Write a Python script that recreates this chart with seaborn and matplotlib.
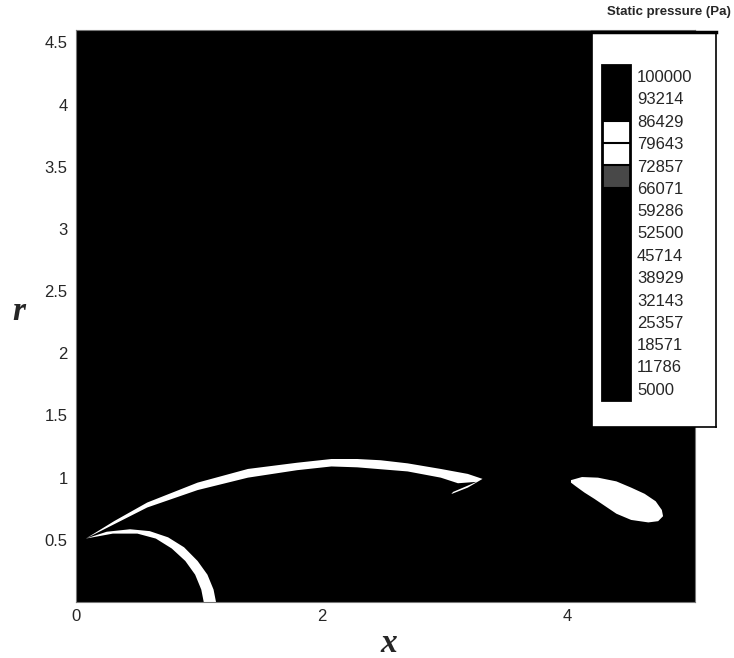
import numpy as np
import seaborn as sns
import matplotlib.pyplot as plt
from matplotlib.colors import ListedColormap, BoundaryNorm
from matplotlib.cm import ScalarMappable

sns.set_style("white")
plt.rcParams['font.family'] = ['Liberation Sans', 'DejaVu Sans']

# contour levels of the legend (Pa)
levels = [5000, 11786, 18571, 25357, 32143, 38929, 45714, 52500,
          59286, 66071, 72857, 79643, 86429, 93214, 100000]
level_labels = [str(v) for v in levels]
# colour of each band between two levels (low -> high)
band_colors = ['black'] * 9 + ['#484848', 'white', 'white', 'black', 'black']

# pressure of the regions drawn
p_background = 40000
p_shock = 80000

# upper shock band (outline, data coords)
upper_x = [0.08, 0.31, 0.58, 0.99, 1.40, 1.80, 2.08, 2.29, 2.48, 2.70, 2.97, 3.19, 3.31,
           3.19, 3.056, 3.07, 3.20, 3.26, 3.11, 2.97, 2.70, 2.29, 2.08, 1.80, 1.40, 0.99,
           0.58, 0.31, 0.08]
upper_y = [0.51, 0.65, 0.80, 0.96, 1.07, 1.12, 1.15, 1.15, 1.14, 1.115, 1.07, 1.03, 0.99,
           0.92, 0.868, 0.885, 0.94, 0.966, 0.955, 1.00, 1.05, 1.083, 1.09, 1.06, 1.00, 0.90,
           0.76, 0.625, 0.51]

# lower curved band
lower_x = [0.08, 0.25, 0.44, 0.60, 0.75, 0.88, 0.99, 1.07, 1.12, 1.14,
           1.04, 1.02, 0.97, 0.89, 0.78, 0.65, 0.50, 0.30, 0.08]
lower_y = [0.51, 0.565, 0.585, 0.57, 0.52, 0.44, 0.33, 0.22, 0.10, 0.0,
           0.0, 0.10, 0.22, 0.33, 0.43, 0.51, 0.55, 0.55, 0.51]

# blob behind
blob_x = [4.03, 4.12, 4.25, 4.40, 4.52, 4.63, 4.72, 4.77, 4.78, 4.74, 4.66, 4.52,
          4.40, 4.31, 4.22, 4.14, 4.07, 4.03]
blob_y = [0.98, 1.005, 1.00, 0.97, 0.92, 0.87, 0.81, 0.74, 0.69, 0.65, 0.64, 0.66,
          0.71, 0.77, 0.83, 0.88, 0.93, 0.96]

cmap = ListedColormap(band_colors)
cmap.set_under('black')
cmap.set_over('black')
norm = BoundaryNorm(levels, cmap.N)

fig = plt.figure(figsize=(7.34, 6.58), dpi=100)
ax = fig.add_axes([76/734, 1-602/658, 619/734, 572/658])
ax.set_facecolor(cmap(norm(p_background)))
for xs, ys in [(upper_x, upper_y), (lower_x, lower_y), (blob_x, blob_y)]:
    ax.fill(xs, ys, color=cmap(norm(p_shock)), lw=0)

ax.set_xlim(0, 5.04)
ax.set_ylim(0, 4.6)
ax.set_xticks([0, 2, 4])
ax.set_yticks([0.5, 1, 1.5, 2, 2.5, 3, 3.5, 4, 4.5])
ax.set_yticklabels(['0.5', '1', '1.5', '2', '2.5', '3', '3.5', '4', '4.5'])
ax.tick_params(length=0, labelsize=12)
ax.tick_params(axis='x', pad=5)
ax.tick_params(axis='y', pad=6)
for s in ax.spines.values():
    s.set_color('#777777')
    s.set_linewidth(0.8)

ax.set_xlabel('x', family='Liberation Serif', style='italic', weight='bold', fontsize=24)
ax.set_ylabel('r', family='Liberation Serif', style='italic', weight='bold', fontsize=24,
              rotation=0)
ax.xaxis.set_label_coords(0.505, -0.045)
ax.yaxis.set_label_coords(-0.093, 0.48)

# legend box
lax = fig.add_axes([592/734, 1-427/658, 124/734, 395/658])
lax.set_facecolor('white')
lax.set_xticks([])
lax.set_yticks([])
for s in lax.spines.values():
    s.set_color('black')
    s.set_linewidth(1.2)
lax.spines['top'].set_linewidth(2.5)

cax = fig.add_axes([602/734, 1-400/658, 28/734, 335/658])
sm = ScalarMappable(norm=norm, cmap=cmap)
cb = fig.colorbar(sm, cax=cax, extend='both', extendrect=True, extendfrac=1/28,
                  ticks=levels, drawedges=True)
cb.ax.set_yticklabels(level_labels)
cb.ax.tick_params(length=0, labelsize=12, pad=5)
cb.outline.set_color('black')
cb.outline.set_linewidth(2)
cb.dividers.set_color('black')
cb.dividers.set_linewidth(1.5)

fig.text(0.996, 1-12/658, 'Static pressure (Pa)', ha='right', va='center',
         fontsize=9.5, fontweight='bold')

fig.savefig('out.png', dpi=100)
